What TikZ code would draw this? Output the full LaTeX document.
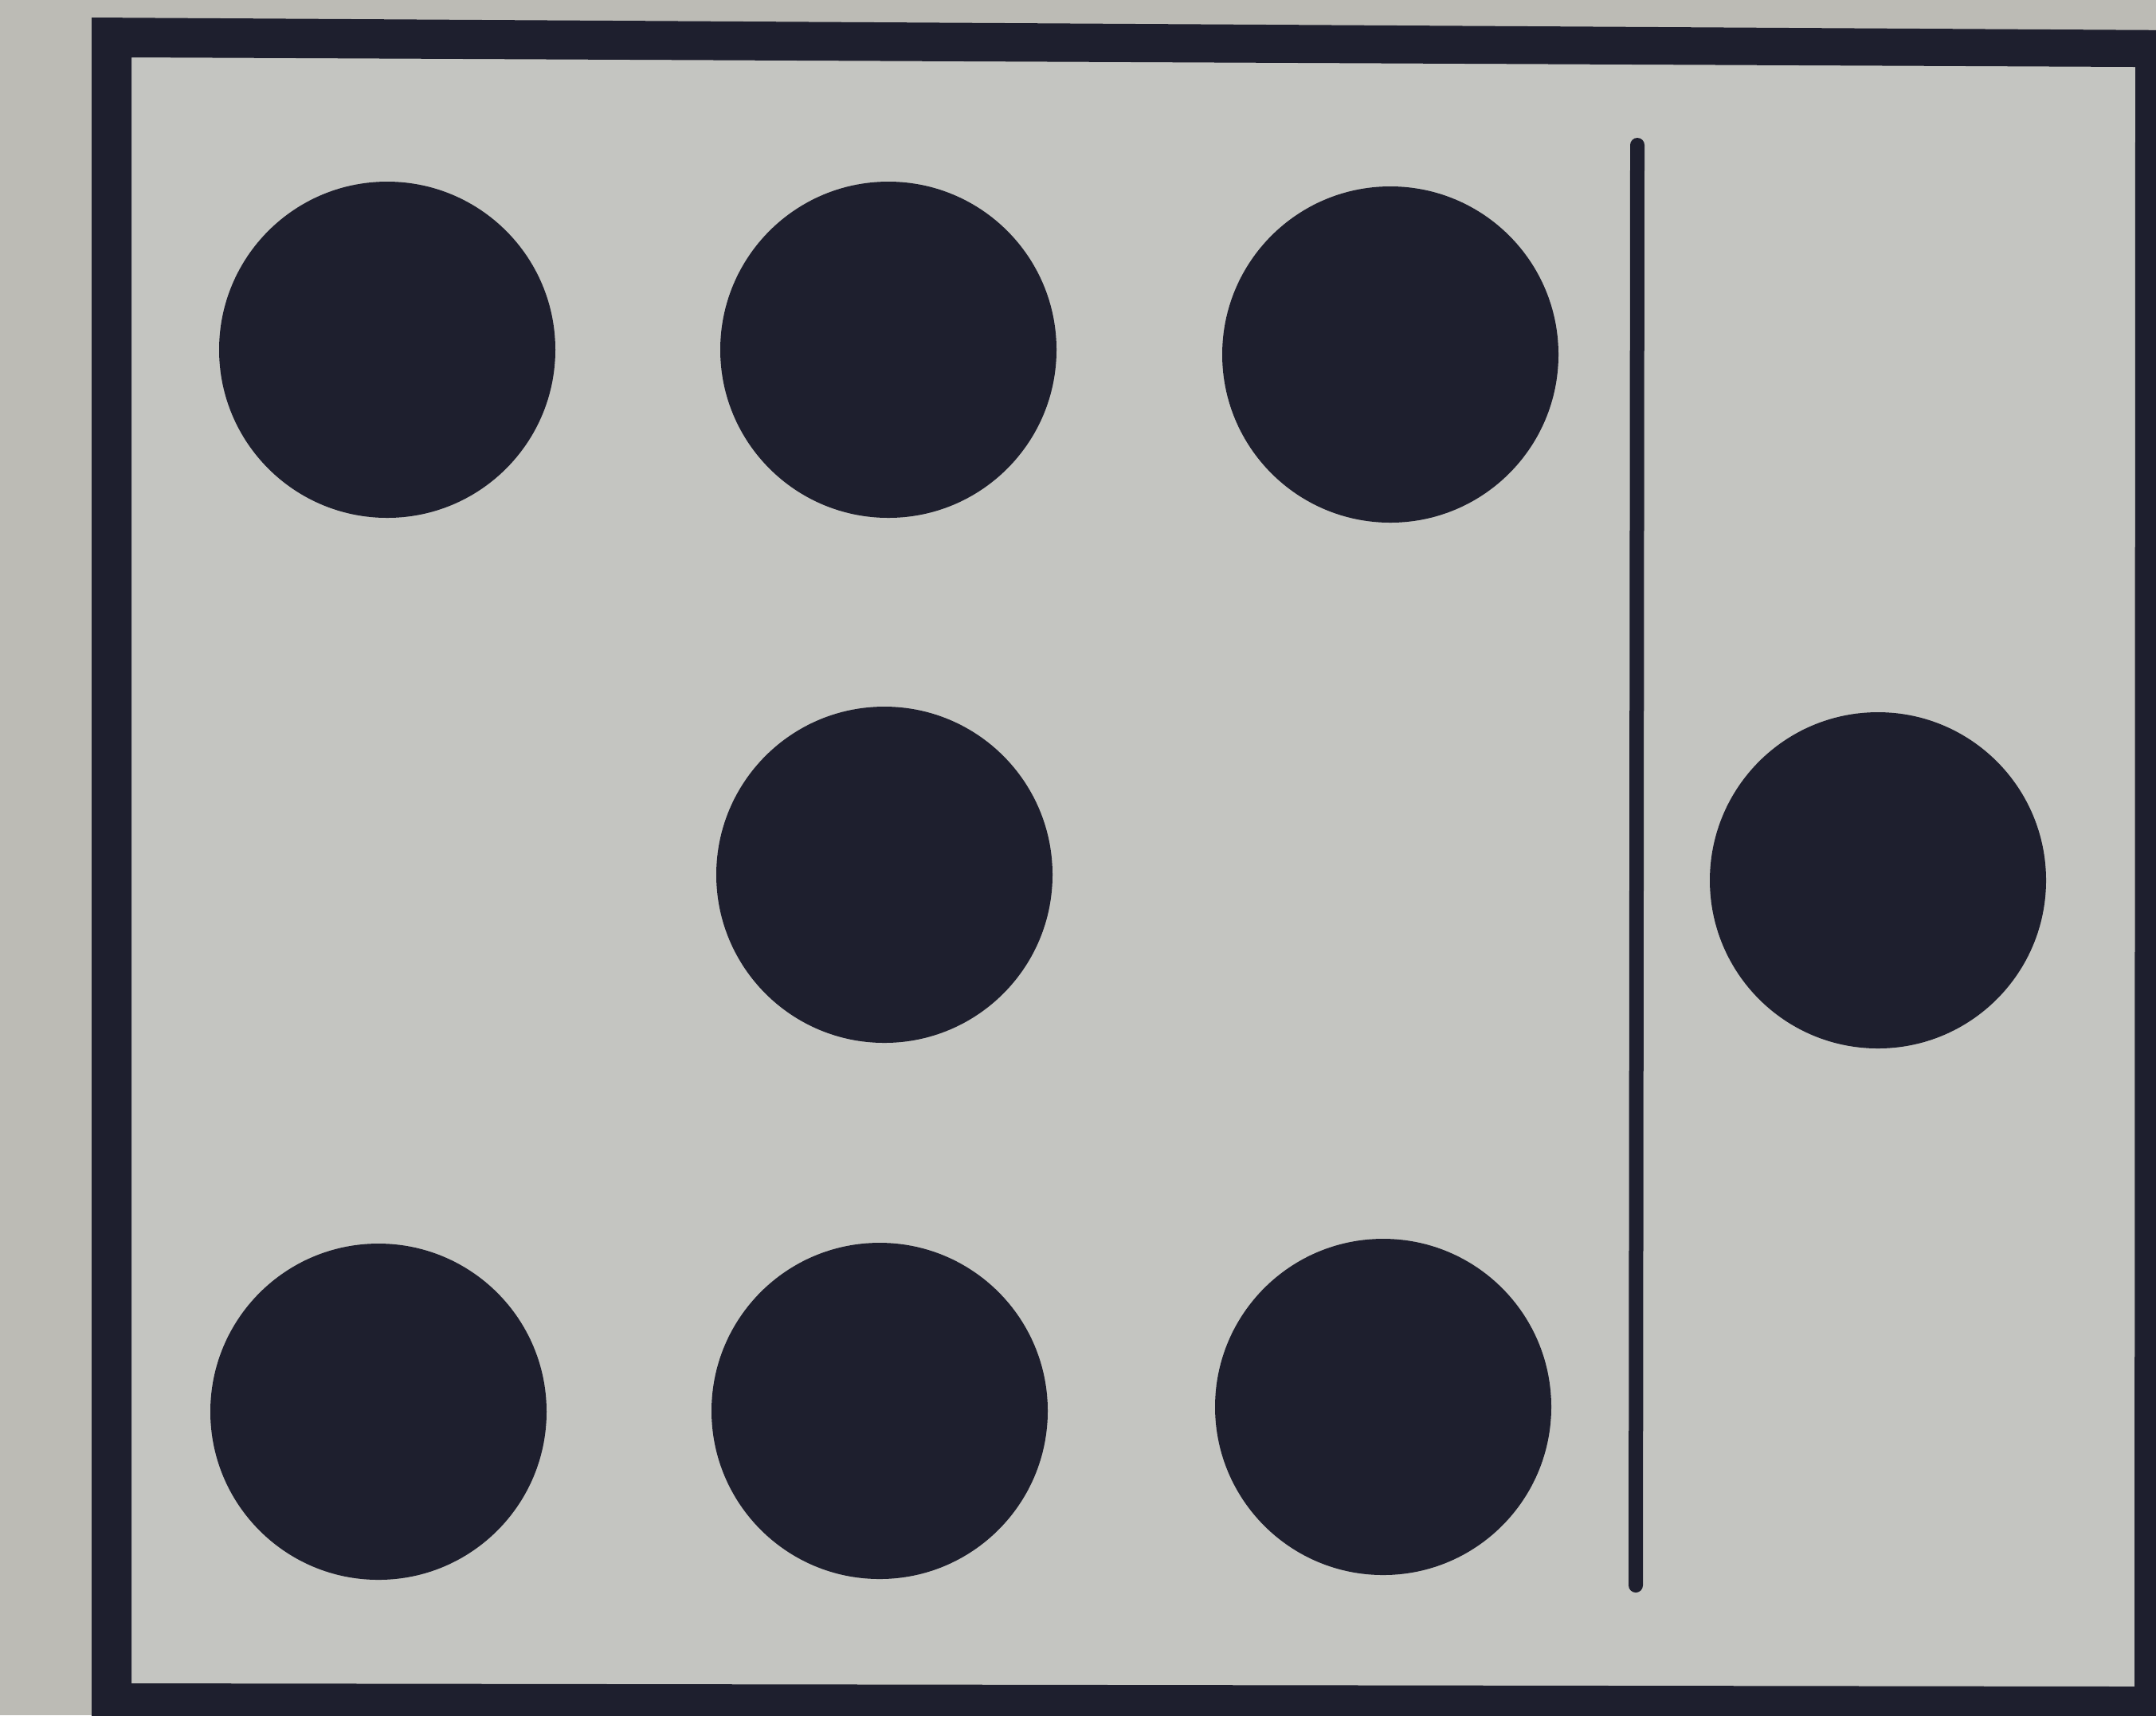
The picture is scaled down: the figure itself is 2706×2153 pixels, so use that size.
\documentclass[tikz,border=0pt]{standalone}
\usepackage{tikz}

\definecolor{paper}{RGB}{188,187,181}
\definecolor{card}{RGB}{196,197,193}
\definecolor{ink}{RGB}{30,31,46}

\begin{document}
\begin{tikzpicture}[x=0.1mm,y=-0.1mm]

\useasboundingbox (0,0) rectangle (2706,2153);
\clip (0,0) rectangle (2706,2153);
\fill[paper] (0,0) rectangle (2706,2153);

% card and its frame
\fill[card] (165,72) -- (2680,84) -- (2679,2117) -- (165,2113) -- cycle;
\fill[ink, even odd rule] (115,22) -- (2740,38) -- (2740,2190) -- (115,2190) -- cycle
  (165,72) -- (2680,84) -- (2679,2117) -- (165,2113) -- cycle;

% divider
\draw[ink, line width=1.8mm, line cap=round] (2055,182) -- (2053,1990);

% six dots on the left
\fill[ink] (486,439) circle (211);
\fill[ink] (1115,439) circle (211);
\fill[ink] (1745,445) circle (211);
\fill[ink] (1110,1098) circle (211);
\fill[ink] (475,1772) circle (211);
\fill[ink] (1104,1771) circle (211);
\fill[ink] (1736,1766) circle (211);

% one dot on the right
\fill[ink] (2357,1105) circle (211);

\end{tikzpicture}
\end{document}
